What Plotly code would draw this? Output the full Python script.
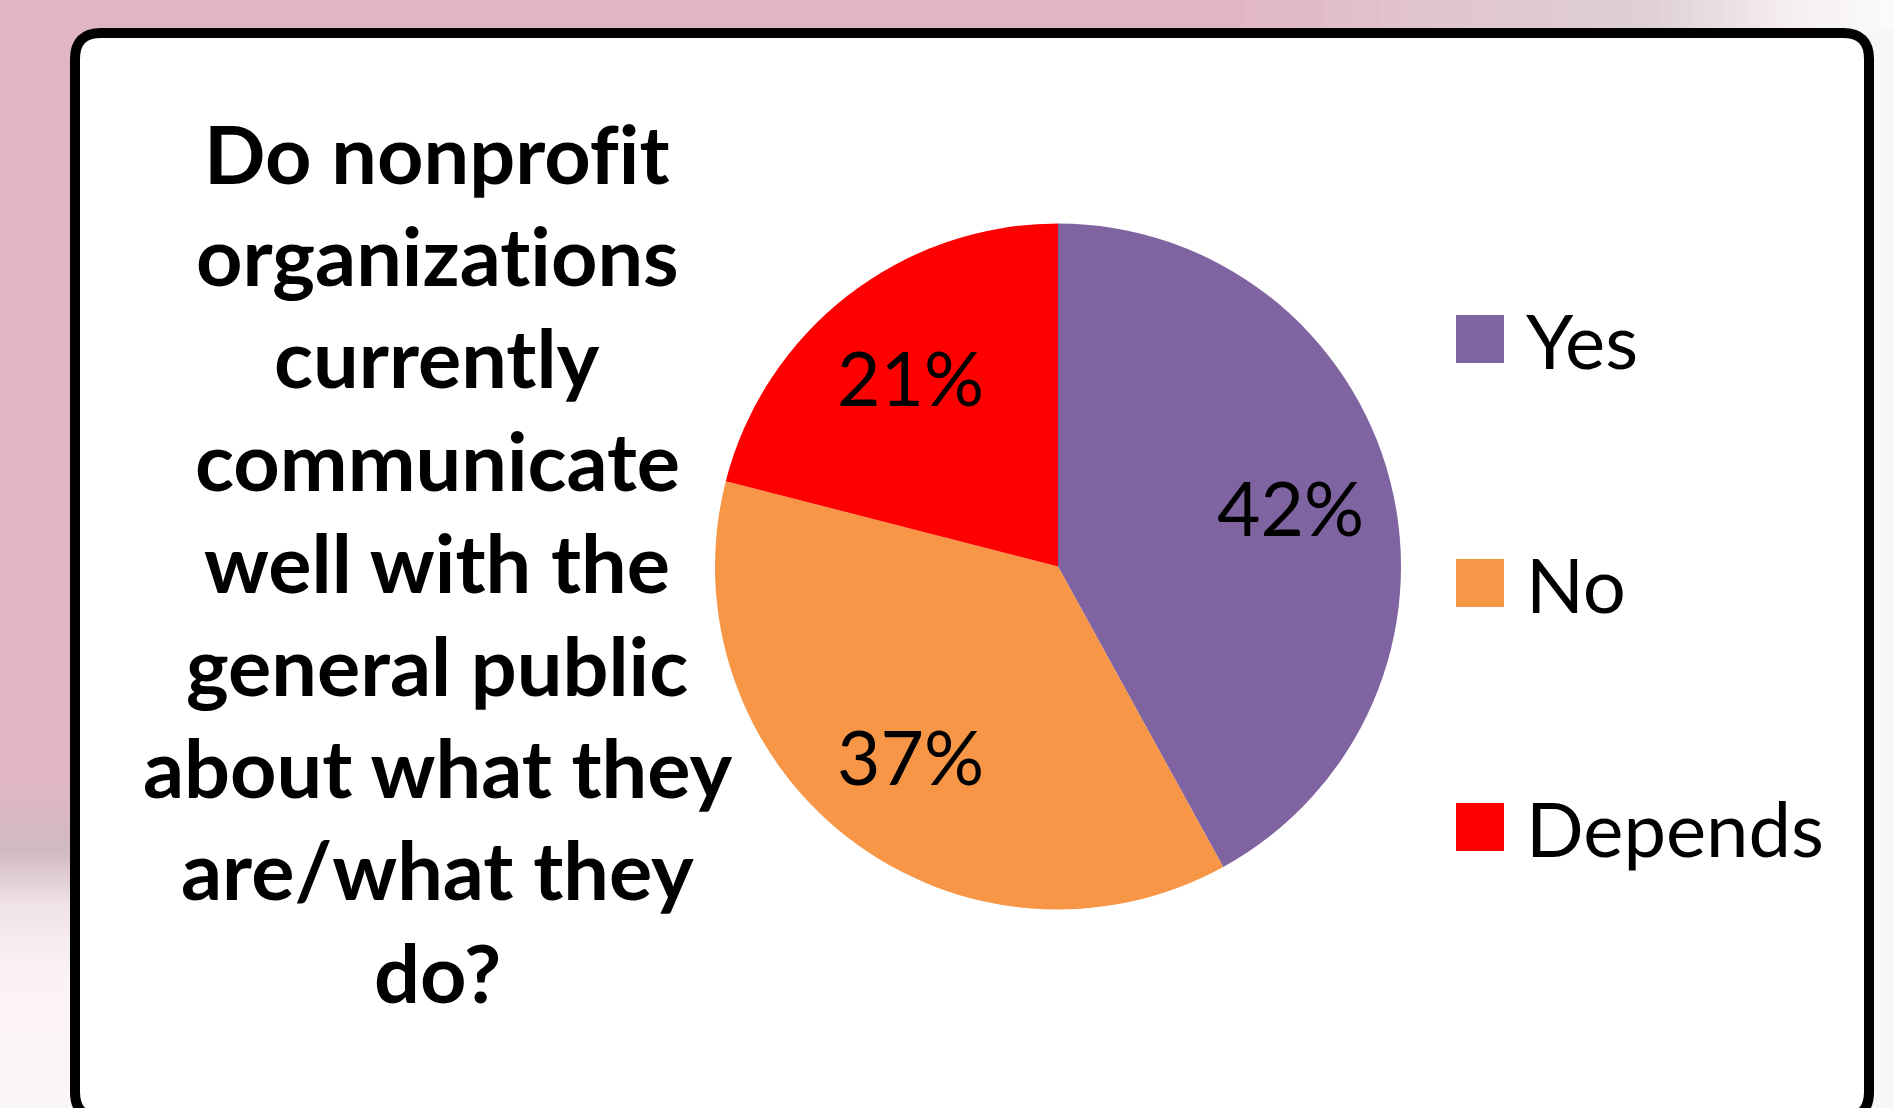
import math
import plotly.graph_objects as go

# Survey answers
answers = ["Yes", "No", "Depends"]
shares = [42, 37, 21]
slice_colors = ["#8064A2", "#F79646", "#FF0000"]

# \u200c keeps the font from fusing "fi"/"ti" into ligatures
question_lines = [
    "Do nonprof\u200cit",
    "organizat\u200cions",
    "currently",
    "communicate",
    "well with the",
    "general public",
    "about what they",
    "are/what they",
    "do?",
]

W, H = 1894, 1108
FONT = "Lato"

# pie placement (pixels): centre and radius
PIE_CX, PIE_CY, PIE_R = 1058, 566.5, 343

fig = go.Figure()

fig.add_trace(go.Pie(
    labels=answers,
    values=shares,
    marker=dict(colors=slice_colors, line=dict(width=0)),
    sort=False,
    direction="clockwise",
    rotation=0,
    textinfo="none",
    showlegend=False,
    hoverinfo="label+percent",
    domain=dict(x=[(PIE_CX - PIE_R) / W, (PIE_CX + PIE_R) / W],
                y=[(H - PIE_CY - PIE_R) / H, (H - PIE_CY + PIE_R) / H]),
))


def lerp(c0, c1, t):
    return tuple(round(a + (b - a) * t) for a, b in zip(c0, c1))


def gradient_bands(stops, fixed, vertical, n_per=14):
    """Approximate a linear gradient with thin filled rectangles."""
    shapes = []
    for (p0, c0), (p1, c1) in zip(stops[:-1], stops[1:]):
        step = (p1 - p0) / n_per
        for k in range(n_per):
            a = p0 + k * step
            b = a + step + 0.8
            col = "rgb(%d,%d,%d)" % lerp(c0, c1, (k + 0.5) / n_per)
            if vertical:
                x0, x1, y0, y1 = fixed[0], fixed[1], a, b
            else:
                x0, x1, y0, y1 = a, b, fixed[0], fixed[1]
            shapes.append(dict(type="rect", xref="x", yref="y", x0=x0, x1=x1,
                               y0=y0, y1=y1, fillcolor=col,
                               line=dict(width=0), layer="below"))
    return shapes


PINK = (225, 182, 195)
shapes = []
# soft fade along the top right
shapes += gradient_bands(
    [(1230, PINK), (1420, (226, 196, 205)), (1650, (222, 208, 212)),
     (1800, (246, 240, 242)), (1894, (252, 251, 252))],
    (0, 34), vertical=False)
# fade along the lower left edge
shapes += gradient_bands(
    [(780, PINK), (850, (208, 186, 193)), (905, (240, 226, 231)),
     (970, (251, 242, 245)), (1108, (250, 245, 247))],
    (0, 76), vertical=True)
# light strip on the right edge
shapes.append(dict(type="rect", xref="x", yref="y", x0=1860, x1=W, y0=30, y1=H,
                   fillcolor="rgb(246,247,247)", line=dict(width=0), layer="below"))

# rounded white panel with a heavy black outline
L, T, R, B, r = 75, 33, 1869, 1118, 26
panel = (f"M {L+r},{T} L {R-r},{T} Q {R},{T} {R},{T+r} "
         f"L {R},{B-r} Q {R},{B} {R-r},{B} L {L+r},{B} Q {L},{B} {L},{B-r} "
         f"L {L},{T+r} Q {L},{T} {L+r},{T} Z")
shapes.append(dict(type="path", xref="x", yref="y", path=panel,
                   fillcolor="white", line=dict(color="black", width=10),
                   layer="below"))

annotations = []

# percentage labels, placed along each slice's middle angle
total = sum(shares)
start = 0.0
for v in shares:
    mid = (start + v / 2) / total * 2 * math.pi
    start += v
    annotations.append(dict(
        x=PIE_CX + 0.7 * PIE_R * math.sin(mid),
        y=PIE_CY - 0.7 * PIE_R * math.cos(mid),
        xref="x", yref="y", text=f"{v}%", showarrow=False,
        xanchor="center", yanchor="middle",
        font=dict(family=FONT, size=75, color="black")))

# legend: colour squares next to the answer names
LEG_X, LEG_Y0, LEG_GAP, SQ = 1456, 339, 244, 48
for i, (name, col) in enumerate(zip(answers, slice_colors)):
    yc = LEG_Y0 + i * LEG_GAP
    shapes.append(dict(type="rect", xref="x", yref="y",
                       x0=LEG_X, x1=LEG_X + SQ, y0=yc - SQ / 2, y1=yc + SQ / 2,
                       fillcolor=col, line=dict(width=0), layer="below"))
    annotations.append(dict(x=LEG_X + 68, y=yc, xref="x", yref="y", text=name,
                            showarrow=False, xanchor="left", yanchor="middle",
                            font=dict(family=FONT, size=76, color="black")))

# question text, one centred line at a time
Q_X, Q_Y0, Q_GAP = 437, 152, 102.4
for i, line in enumerate(question_lines):
    annotations.append(dict(x=Q_X, y=Q_Y0 + i * Q_GAP, xref="x", yref="y",
                            text=line, showarrow=False, xanchor="center",
                            yanchor="middle",
                            font=dict(family=FONT, size=81, color="black",
                                      weight="bold")))

fig.update_layout(
    width=W, height=H, autosize=False,
    margin=dict(l=0, r=0, t=0, b=0, pad=0),
    paper_bgcolor="rgb(%d,%d,%d)" % PINK,
    plot_bgcolor="rgba(0,0,0,0)",
    xaxis=dict(range=[0, W], visible=False, fixedrange=True),
    yaxis=dict(range=[H, 0], visible=False, fixedrange=True),
    shapes=shapes,
    annotations=annotations,
)

fig.write_html("out.html")
